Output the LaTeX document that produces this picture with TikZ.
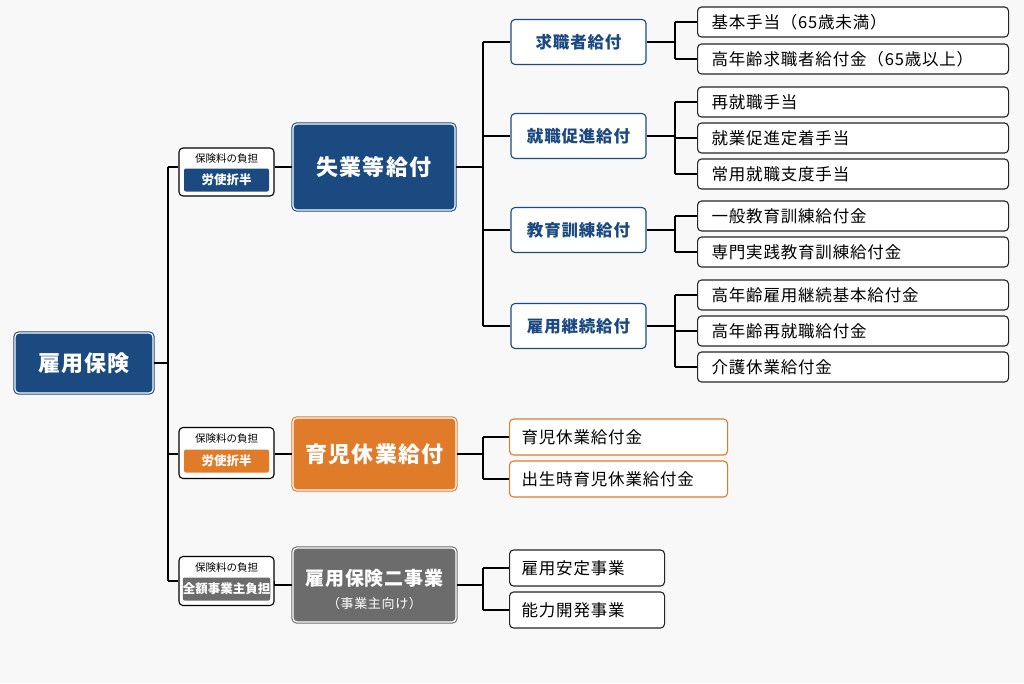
\documentclass[tikz,border=0pt]{standalone}
\usepackage{fontspec}
\setmainfont{Noto Sans CJK JP}[LetterSpace=5]
\definecolor{navy}{HTML}{1B4A80}
\definecolor{orng}{HTML}{E07B2A}
\definecolor{gry}{HTML}{6C6C6C}
\definecolor{bg}{HTML}{F8F8F8}
\begin{document}
\begin{tikzpicture}[x=1pt,y=-1pt,
 line width=1.1pt,
 main/.style={draw=#1,fill=#1,rounded corners=4pt,double=white,double distance=1.2pt,text=white,font=\fontsize{22}{24}\selectfont\bfseries,align=center,inner sep=0pt},
 sec/.style={draw=navy,fill=white,rounded corners=4pt,text=navy,font=\fontsize{16.5}{18}\selectfont\bfseries,minimum width=135pt,minimum height=45pt,inner sep=0pt},
 lbl/.style={draw=black,fill=white,rounded corners=4pt,minimum width=95pt,inner sep=0pt},
 leaf/.style={draw=#1,fill=white,rounded corners=4pt,anchor=west,inner sep=0pt,font=\fontsize{16.5}{18}\selectfont},
 ln/.style={draw=black,line width=1.1pt}]
\fill[bg] (0,0) rectangle (1024,683);
\useasboundingbox (0,0) rectangle (1024,683);
% root
\node[main=navy,minimum width=138pt,minimum height=60pt] (root) at (84,363) {雇用保険};
% label boxes
\foreach \n/\y/\h/\c/\t in {l1/172/48/navy/労使折半,l2/453/51/orng/労使折半,l3/581/49/gry/全額事業主負担}{
 \node[lbl,minimum height=\h pt] (\n) at (226.5,\y) {};
 \node[font=\fontsize{10.5}{12}\selectfont\addfontfeatures{LetterSpace=0}] at (226.5,\y-\h/2+11) {保険料の負担};
 \node[fill=\c,text=white,rounded corners=2pt,minimum width=85pt,minimum height=23pt,inner sep=0pt,font=\fontsize{12.5}{14}\selectfont\bfseries\addfontfeatures{LetterSpace=0}] at (226.5,\y+8) {\t};
}
% main boxes
\node[main=navy,minimum width=162pt,minimum height=86pt] (m1) at (374,167) {失業等給付};
\node[main=orng,minimum width=163pt,minimum height=72pt] (m2) at (374.5,454) {育児休業給付};
\node[main=gry,minimum width=163pt,minimum height=74pt] (m3) at (374.5,585) {};
\node[text=white,font=\fontsize{19}{22}\selectfont\bfseries] at (374.5,578) {雇用保険二事業};
\node[text=white,font=\fontsize{13}{15}\selectfont] at (374.5,604) {（事業主向け）};
% trunk
\coordinate (t0) at (168,363);
\draw[ln] (root.east) -- (t0);
\draw[ln] (168,167) -- (168,581);
\draw[ln] (168,167) -- (l1.west |- m1.west); \draw[ln] (l1.east |- m1.west) -- (m1.west);
\draw[ln] (168,454) -- (l2.west |- m2.west); \draw[ln] (l2.east |- m2.west) -- (m2.west);
\draw[ln] (168,581) -- (l3.west); \draw[ln] (l3.east) -- (m3.west -| l3.east) -- (m3.west);
% second level
\node[sec] (s1) at (578.5,42) {求職者給付};
\node[sec] (s2) at (578.5,136) {就職促進給付};
\node[sec] (s3) at (578.5,230) {教育訓練給付};
\node[sec] (s4) at (578.5,326) {雇用継続給付};
\draw[ln] (m1.east) -- (483,167);
\draw[ln] (483,42) -- (483,326);
\foreach \s in {s1,s2,s3,s4}{\draw[ln] (483,0|-\s.west) -- (\s.west);}
% leaves
\foreach \n/\y/\t in {a1/22/基本手当（65歳未満）,a2/59/高年齢求職者給付金（65歳以上）,
 b1/102/再就職手当,b2/138/就業促進定着手当,b3/174/常用就職支度手当,
 c1/216/一般教育訓練給付金,c2/252/専門実践教育訓練給付金,
 d1/295/高年齢雇用継続基本給付金,d2/331/高年齢再就職給付金,d3/367/介護休業給付金}{
 \node[leaf=black!85,minimum width=311pt,minimum height=30pt] (\n) at (697,\y) {\hspace*{14pt}\makebox[297pt][l]{\t}};
}
\foreach \s/\a/\b/\l in {s1/22/59/{a1,a2},s2/102/174/{b1,b2,b3},s3/216/252/{c1,c2},s4/295/367/{d1,d2,d3}}{
 \draw[ln] (\s.east) -- (675,0|-\s.east);
 \draw[ln] (675,\a) -- (675,\b);
 \foreach \x in \l {\draw[ln] (675,0|-\x.west) -- (\x.west);}
}
% orange leaves
\foreach \n/\y/\t in {o1/437/育児休業給付金,o2/479/出生時育児休業給付金}{
 \node[leaf=orng,minimum width=218pt,minimum height=36pt] (\n) at (509,\y) {\hspace*{12pt}\makebox[206pt][l]{\t}};
}
\draw[ln] (m2.east) -- (483,454);
\draw[ln] (483,437) -- (483,479);
\draw[ln] (483,437) -- (o1.west); \draw[ln] (483,479) -- (o2.west);
% gray leaves
\foreach \n/\y/\t in {g1/568/雇用安定事業,g2/610/能力開発事業}{
 \node[leaf=black!85,minimum width=155pt,minimum height=36pt] (\n) at (509,\y) {\hspace*{12pt}\makebox[143pt][l]{\t}};
}
\draw[ln] (m3.east) -- (483,585);
\draw[ln] (483,568) -- (483,610);
\draw[ln] (483,568) -- (g1.west); \draw[ln] (483,610) -- (g2.west);
\end{tikzpicture}
\end{document}
